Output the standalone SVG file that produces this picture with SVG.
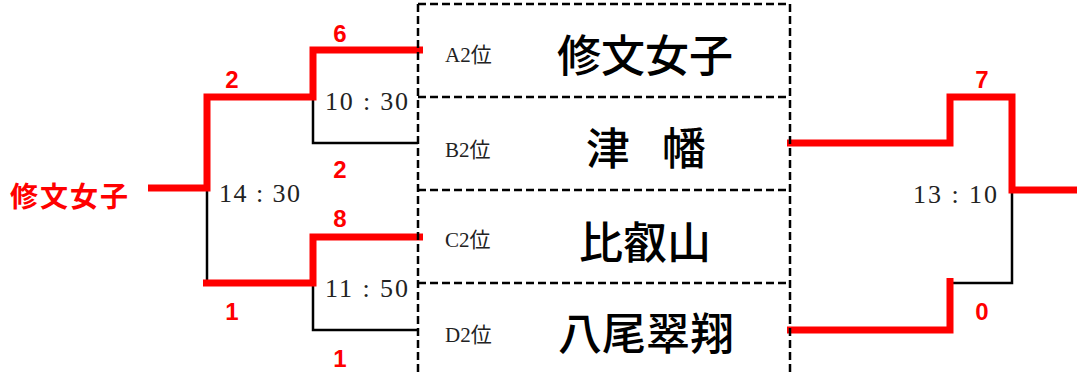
<svg xmlns="http://www.w3.org/2000/svg" width="1077" height="373" viewBox="0 0 1077 373">
<style>
.red{fill:none;stroke:#ff0000;stroke-width:7;stroke-linejoin:miter}
.blk{fill:none;stroke:#000;stroke-width:2.5}
.dash{fill:none;stroke:#000;stroke-width:2.5;stroke-dasharray:8 4}
.num{font-family:"Liberation Sans",sans-serif;font-weight:bold;font-size:24px;fill:#ff0000;text-anchor:middle}
.time{font-family:"Liberation Serif",serif;font-size:26px;fill:#222}
.seed{font-family:"Liberation Serif","Noto Sans CJK JP",serif;font-size:21px;fill:#222}
.team{font-family:"Noto Sans CJK JP",sans-serif;font-size:44px;font-weight:500;fill:#000;text-anchor:middle}
.winner{font-family:"Noto Sans CJK JP",sans-serif;font-size:28px;font-weight:bold;fill:#ff0000;letter-spacing:2px}
</style>
<rect width="1077" height="373" fill="#fff"/>
<g id="connectors">
  <path class="blk" d="M313,97 V143 H418"/>
  <path class="blk" d="M207,188 V283"/>
  <path class="blk" d="M313,283 V330 H418"/>
  <path class="blk" d="M1012,190 V283 H950"/>
  <path class="red" d="M148,188 H207 V97 H313 V50 H423"/>
  <path class="red" d="M203,283 H313 V237 H423"/>
  <path class="red" d="M787,143 H950 V97 H1012 V190 H1077"/>
  <path class="red" d="M787,330 H950 V278"/>
</g>
<g id="box">
  <path class="dash" d="M418,4 V373 M790,4 V373 M418,4 H790 M418,97 H790 M418,190 H790 M418,283 H790"/>
</g>
<g id="node-a2">
  <text class="seed" x="445" y="62">A2位</text>
  <text class="team" x="645" y="72">修文女子</text>
</g>
<g id="node-b2">
  <text class="seed" x="445" y="157">B2位</text>
  <text class="team" x="646" y="165" textLength="120" lengthAdjust="spacing">津　幡</text>
</g>
<g id="node-c2">
  <text class="seed" x="445" y="247">C2位</text>
  <text class="team" x="645" y="259">比叡山</text>
</g>
<g id="node-d2">
  <text class="seed" x="445" y="342">D2位</text>
  <text class="team" x="646" y="350">八尾翠翔</text>
</g>
<g id="node-winner">
  <text class="winner" x="10" y="207">修文女子</text>
</g>
<g id="times">
  <text class="time" x="325" y="110" textLength="83">10 : 30</text>
  <text class="time" x="219" y="202" textLength="81">14 : 30</text>
  <text class="time" x="325" y="297" textLength="83">11 : 50</text>
  <text class="time" x="913" y="203" textLength="84">13 : 10</text>
</g>
<g id="scores">
  <text class="num" x="340" y="42">6</text>
  <text class="num" x="232" y="88">2</text>
  <text class="num" x="340" y="178">2</text>
  <text class="num" x="340" y="227">8</text>
  <text class="num" x="232" y="320">1</text>
  <text class="num" x="340" y="367">1</text>
  <text class="num" x="982" y="88">7</text>
  <text class="num" x="982" y="320">0</text>
</g>
</svg>
